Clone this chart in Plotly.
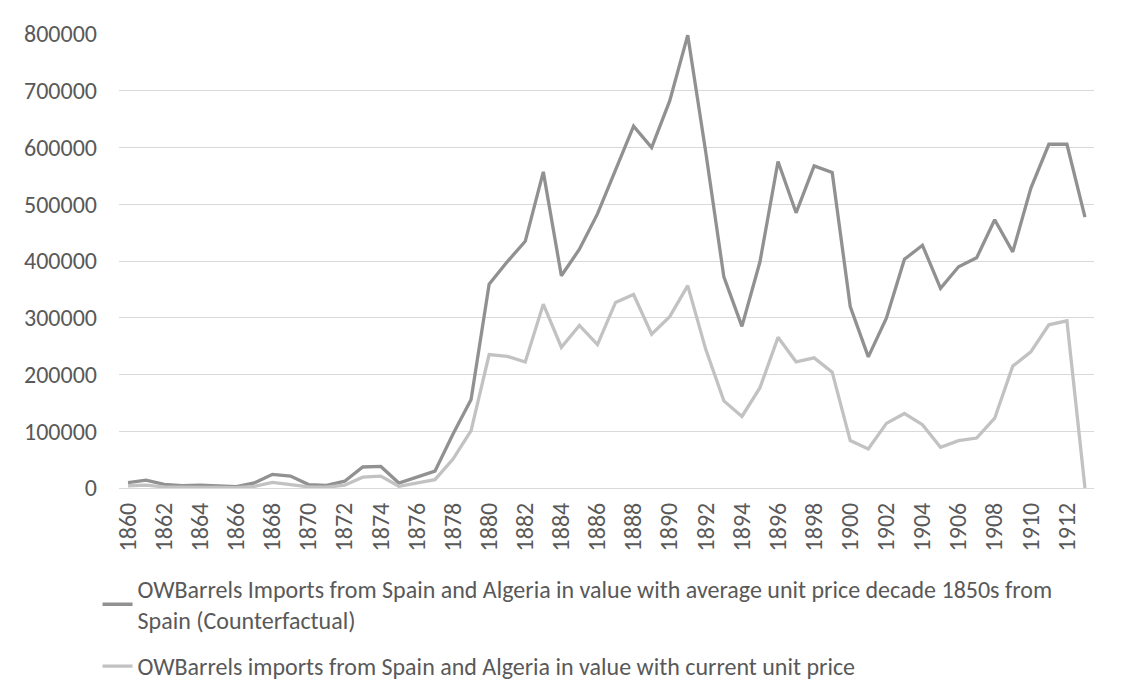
import plotly.graph_objects as go

years = list(range(1860, 1914))

counterfactual = [
    9300, 14000, 6500, 4000, 5000, 4000, 2500, 9000, 24000, 21000,
    6000, 4500, 12000, 37000, 38000, 8700, 19000, 29700, 95000, 156000,
    359000, 398600, 434700, 557000, 374000, 420700, 483000, 560700, 637700, 600000,
    682000, 798000, 591000, 372000, 284800, 398600, 575400, 484900, 567700, 556000,
    319800, 231000, 299300, 403000, 427700, 351800, 389800, 405600, 472700, 416000,
    528000, 605700, 605700, 477400,
]

current_price = [
    4000, 5000, 2000, 1000, 1000, 1000, 500, 3000, 10000, 6000,
    2000, 1500, 5000, 19000, 21000, 3000, 8700, 14600, 51000, 101000,
    235000, 232000, 222000, 324000, 248000, 286500, 252600, 327000, 341000, 271000,
    302000, 356600, 243900, 153500, 126000, 176800, 265500, 222300, 229300, 204200,
    83500, 68800, 113800, 131300, 111500, 71800, 83500, 88000, 123000, 214800,
    239800, 287600, 294600, 0,
]

name_cf = ("OWBarrels Imports from Spain and Algeria in value with average unit price decade 1850s from"
           "<br>Spain (Counterfactual)")
name_cur = "OWBarrels imports from Spain and Algeria in value with current unit price"

FONT = "Carlito, Lato, sans-serif"
TXT = "#595959"

fig = go.Figure()
fig.add_trace(go.Scatter(x=years, y=counterfactual, mode="lines", name=name_cf,
                         legendgroup="a", line=dict(color="#919191", width=3.3)))
fig.add_trace(go.Scatter(x=years, y=current_price, mode="lines", name=name_cur,
                         legendgroup="b", line=dict(color="#c2c2c2", width=3.3)))

# page body adds an 8px margin, so the figure is drawn 8px smaller
fig.update_layout(
    width=1113, height=692,
    margin=dict(l=111, r=27, t=26, b=209),
    paper_bgcolor="white", plot_bgcolor="white",
    font=dict(family=FONT, size=24, color=TXT),
    showlegend=True,
    legend=dict(orientation="v", x=-0.022, xanchor="left", y=-0.173, yanchor="top",
                traceorder="grouped", tracegroupgap=12,
                font=dict(family=FONT, size=24, color=TXT),
                bgcolor="rgba(0,0,0,0)"),
    shapes=[dict(type="rect", xref="paper", yref="paper",
                 x0=-0.1164, x1=1.05, y0=-0.5, y1=1.0624,
                 line=dict(color="#d9d9d9", width=1), layer="below")],
)
fig.update_xaxes(range=[1859.5, 1913.5], tick0=1860, dtick=2, tickangle=-90,
                 showgrid=False, zeroline=False, showline=False, ticks="",
                 ticklabelstandoff=9, tickfont=dict(size=24, color=TXT))
fig.update_yaxes(range=[0, 800000], dtick=100000, tickformat="d",
                 showgrid=True, gridcolor="#d9d9d9", gridwidth=1,
                 zeroline=True, zerolinecolor="#d9d9d9", zerolinewidth=1,
                 ticks="", ticklabelstandoff=21, tickfont=dict(size=24, color=TXT))

fig.write_html("out.html")
